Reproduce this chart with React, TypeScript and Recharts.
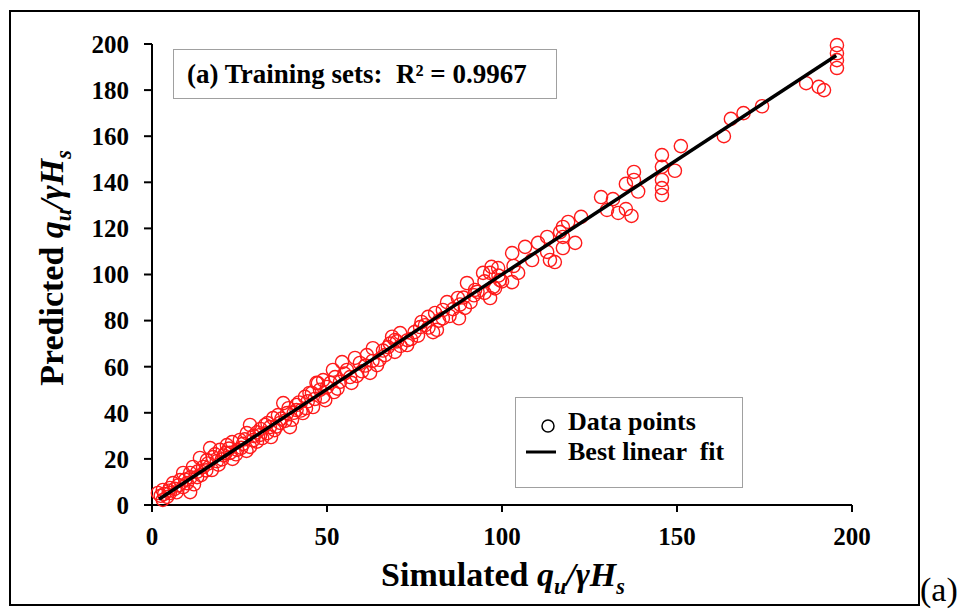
import React from "react";
import { ScatterChart, Scatter, XAxis, YAxis } from "recharts";

const FONT = '"Liberation Serif", "Times New Roman", serif';

// simulated vs predicted q_u / gamma H_s, training set
const simulated = [
  195.7, 195.7, 195.7, 195.7, 186.9, 190.5, 192, 174.3, 169, 165.4, 163.4, 151.1, 149.4,
  145.7, 145.7, 145.7, 145.7, 145.7, 137.7, 137.7, 138.9, 135.4, 135.4, 137, 133.2, 131.7,
  128.3, 130, 122.6, 118.9, 117.4, 116.6, 117.4, 117.4, 120.9, 112.9, 112.9, 115.1, 113.7,
  110.3, 106.6, 108.6, 102.9, 103.3, 104.6, 98.9, 96.6, 94.6, 99.4, 102.9, 97.5,
  98, 97, 95, 96.6, 92.3, 90, 87.4, 89.4, 87.7, 84.3, 83.1, 80.9, 83.1, 81.4, 80.3, 77,
  78.9, 76.6, 69.4, 70.9, 68.6, 72.9, 69.4, 67.4, 66.6, 63.1, 64.3, 61.4, 59.4, 58, 62.3,
  55.7, 52.3, 54.3, 51.7, 47.4, 50, 45.7, 43.7, 53.7, 56.6,
  47, 48.9, 46, 48.9, 45, 41.3, 37.5, 38.6, 41.3, 34.6, 33.7, 32.3, 30.9, 28, 27.1, 28.9,
  25.1, 22.9, 21.4, 24.3, 22.3, 19.4, 16.6, 17.4, 15.7, 13.7, 14.6, 17.1, 11.7, 10.9, 8.9,
  8, 12.9, 10, 6, 5.1, 3.1, 1.7, 3.1, 4.3, 5.1, 10.9, 8.9, 28, 32.9, 36.6, 39.4, 43.1,
  20.5, 26, 30, 35, 36, 40, 42, 44, 49.5, 52, 57, 60, 65, 71, 74, 76, 79, 85, 88, 91, 93,
  100, 12, 7, 2.5, 19, 23, 27, 31, 34, 39, 18,
  3.5, 4.8, 6.5, 7.5, 9.5, 11, 13, 14, 15.5, 16, 18.5, 20, 21, 22, 24, 25.5, 26.5, 29, 30,
  31.5, 33, 35.5, 37, 38, 40.5, 42.5, 44.5, 46.5, 48, 51, 53, 55, 58.5, 61, 63, 66, 68, 70,
  73, 75, 78, 82, 86, 89, 92, 95, 99,
];

const predicted = [
  199.5, 196, 193, 189.6, 183, 181.4, 180, 173, 170, 167.5, 160, 155.7, 145,
  151.8, 146.7, 141, 137.5, 134.5, 144.5, 141, 136, 139.3, 128.4, 125.4, 126.7, 132.7,
  133.6, 128, 125, 122.8, 120.6, 118.4, 116.3, 111.5, 113.7, 116.3, 109.8, 105.4, 106.3,
  113.7, 112, 106.3, 109.3, 103.7, 100.7, 102.8, 100.7, 100.7, 97.6, 96.7, 94.6,
  94, 103.3, 92, 89.8, 93.3, 96.3, 89.8, 85.5, 81, 88, 84.6, 83.3, 81, 76, 75, 79.4,
  81.6, 77.2, 71.6, 74.6, 73, 69.4, 66.4, 68.5, 65, 68, 60.7, 65, 61.6, 63.8, 57.3,
  58.6, 55.5, 62, 58.6, 52.9, 51.2, 48.6, 46.9, 53.4, 55.5,
  53, 54.2, 42.5, 47, 48.6, 43.4, 44.2, 39.9, 41.2, 37.7, 33.8, 34.7, 30.4, 34.7, 31.2, 28.2,
  28.2, 27.3, 26, 23.9, 22.6, 23.9, 24.7, 20.8, 19.5, 20.4, 16.5, 15.2, 16.5, 13.9, 13.9,
  10.8, 12.1, 9.5, 9.5, 7.4, 6.5, 5.2, 2.2, 3.5, 5.2, 5.6, 7.8, 25.2, 31.2, 35.6, 33.8, 39.9,
  21.5, 26.5, 27.5, 32.5, 39, 37, 44.5, 42, 45.5, 49, 53, 58, 63, 69, 72, 73.5, 77, 82, 87, 88, 92.5,
  97, 9, 5.5, 4, 17.5, 20, 23.5, 33, 29.5, 42, 22,
  4.8, 6.2, 7, 8.5, 11, 12, 14.5, 13, 15, 18, 19, 19.8, 22.5, 24.5, 22, 24.8, 28.5, 30, 31.5,
  29, 35.5, 34, 37.5, 36.5, 40, 41, 45, 46, 50, 53, 50.5, 57, 56, 60.5, 62.5, 67, 70, 71,
  71.5, 75, 78, 80, 85, 90, 91, 97, 99.5,
];

// best linear fit end points
const fitX = [2, 195.5];
const fitY = [2.5, 195];

const xTicks = [0, 50, 100, 150, 200];
const yTicks = [0, 20, 40, 60, 80, 100, 120, 140, 160, 180, 200];

const points = simulated.map((x, i) => ({ x, y: predicted[i] }));
const fitPoints = fitX.map((x, i) => ({ x, y: fitY[i] }));

const OpenCircle = (props: any) => {
  const { cx, cy } = props;
  if (cx == null || cy == null) return <g />;
  return <circle cx={cx} cy={cy} r={6.6} fill="none" stroke="#ff1a1a" strokeWidth={1.4} />;
};

const tickStyle = { fill: "#000", fontSize: 25, fontWeight: 700, fontFamily: FONT };
const axisStroke = { stroke: "#000", strokeWidth: 2 };

const subStyle = { fontSize: "0.65em", lineHeight: 0 };

const Quantity = () => (
  <i>
    q<sub style={subStyle}>u</sub>/γH<sub style={subStyle}>s</sub>
  </i>
);

export default function App() {
  return (
    <div
      style={{
        position: "absolute",
        left: 0,
        top: 0,
        width: 964,
        height: 610,
        background: "#fff",
        fontFamily: FONT,
        color: "#000",
      }}
    >
      {/* outer frame */}
      <div
        style={{
          position: "absolute",
          left: 9,
          top: 10,
          width: 911,
          height: 596,
          border: "2px solid #000",
          boxSizing: "border-box",
        }}
      />

      <ScatterChart
        width={964}
        height={610}
        margin={{ top: 44, right: 112, bottom: 55, left: 92 }}
        style={{ position: "absolute", left: 0, top: 0 }}
      >
        <XAxis
          type="number"
          dataKey="x"
          domain={[0, 200]}
          ticks={xTicks}
          height={50}
          tick={tickStyle}
          tickSize={7}
          tickMargin={15}
          axisLine={axisStroke}
          tickLine={axisStroke}
        />
        <YAxis
          type="number"
          dataKey="y"
          domain={[0, 200]}
          ticks={yTicks}
          width={60}
          tick={tickStyle}
          tickSize={8}
          tickMargin={15}
          axisLine={axisStroke}
          tickLine={axisStroke}
        />
        <Scatter data={points} shape={OpenCircle} isAnimationActive={false} />
        <Scatter
          data={fitPoints}
          line={{ stroke: "#000", strokeWidth: 3.5 }}
          shape={() => <g />}
          isAnimationActive={false}
        />
      </ScatterChart>

      {/* R² box */}
      <div
        style={{
          position: "absolute",
          left: 173,
          top: 49,
          width: 384,
          height: 50,
          border: "1px solid #a0a0a0",
          boxSizing: "border-box",
          fontSize: 27,
          fontWeight: 700,
          lineHeight: "48px",
          paddingLeft: 13,
          whiteSpace: "pre",
        }}
      >
        {"(a) Training sets:  R² = 0.9967"}
      </div>

      {/* legend */}
      <div
        style={{
          position: "absolute",
          left: 515,
          top: 397,
          width: 228,
          height: 91,
          border: "1px solid #a0a0a0",
          boxSizing: "border-box",
          fontSize: 26,
          fontWeight: 700,
        }}
      >
        <svg width={40} height={80} style={{ position: "absolute", left: 8, top: 8 }}>
          <circle cx={24} cy={20} r={6} fill="none" stroke="#000" strokeWidth={1.5} />
          <line x1={2} y1={46} x2={32} y2={46} stroke="#000" strokeWidth={3} />
        </svg>
        <div style={{ position: "absolute", left: 52, top: 10, lineHeight: "28px", whiteSpace: "pre" }}>
          Data points
        </div>
        <div style={{ position: "absolute", left: 52, top: 40, lineHeight: "28px", whiteSpace: "pre" }}>
          {"Best linear  fit"}
        </div>
      </div>

      {/* x axis title */}
      <div
        style={{
          position: "absolute",
          left: 0,
          top: 559,
          width: 1006,
          textAlign: "center",
          fontSize: 34,
          fontWeight: 700,
          lineHeight: "32px",
          whiteSpace: "pre",
        }}
      >
        Simulated <Quantity />
      </div>

      {/* y axis title */}
      <div
        style={{
          position: "absolute",
          left: 52 - 200,
          top: 268 - 20,
          width: 400,
          height: 40,
          textAlign: "center",
          fontSize: 34,
          fontWeight: 700,
          lineHeight: "40px",
          whiteSpace: "pre",
          transform: "rotate(-90deg)",
        }}
      >
        Predicted <Quantity />
      </div>

      <div style={{ position: "absolute", left: 920, top: 573, fontSize: 34, lineHeight: "34px" }}>(a)</div>
    </div>
  );
}
